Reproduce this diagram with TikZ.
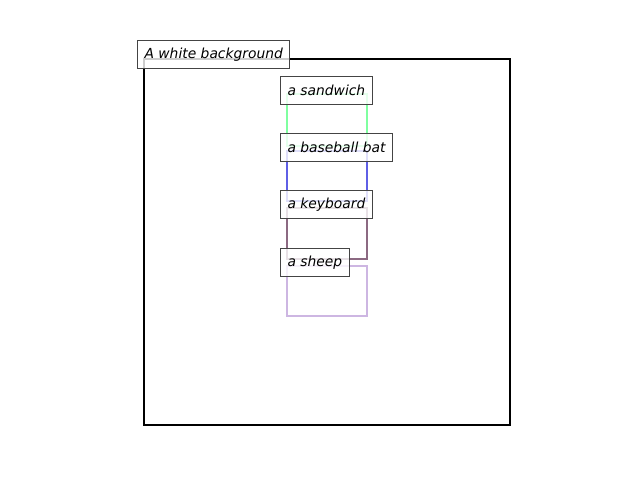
\documentclass[tikz,border=0pt]{standalone}
\usepackage{fontspec}
\setmainfont{DejaVu Sans}
\definecolor{sandwichgreen}{RGB}{127,255,160}
\definecolor{batblue}{RGB}{95,95,230}
\definecolor{keymauve}{RGB}{140,105,130}
\definecolor{sheeplilac}{RGB}{205,182,226}
\definecolor{labelgray}{RGB}{68,68,68}
\begin{document}
\begin{tikzpicture}[x=0.01in, y=-0.01in,
  label/.style={draw=labelgray, line width=0.8pt, fill=white, fill opacity=0.8, text opacity=1,
    anchor=north west, inner xsep=0.07in, inner ysep=0pt, minimum height=0.28in,
    font=\fontsize{10}{12}\selectfont\itshape},
  region/.style={line width=1.6pt}]
  \useasboundingbox (0,0) rectangle (640,480);
  % Background frame
  \draw[line width=1.5pt] (144,59) rectangle (510,425);
  % Object regions
  \draw[region, sandwichgreen] (287,94) rectangle (367,146);
  \draw[region, batblue] (287,151) rectangle (367,201);
  \draw[region, keymauve] (287,208) rectangle (367,259);
  \draw[region, sheeplilac] (287,266) rectangle (367,316);
  % Labels
  \node[label] (bg) at (137,40) {A white background};
  \node[label] (sandwich) at (280,76) {a sandwich};
  \node[label] (bat) at (280,133) {a baseball bat};
  \node[label] (keyboard) at (280,190) {a keyboard};
  \node[label] (sheep) at (280,248) {a sheep};
\end{tikzpicture}
\end{document}
